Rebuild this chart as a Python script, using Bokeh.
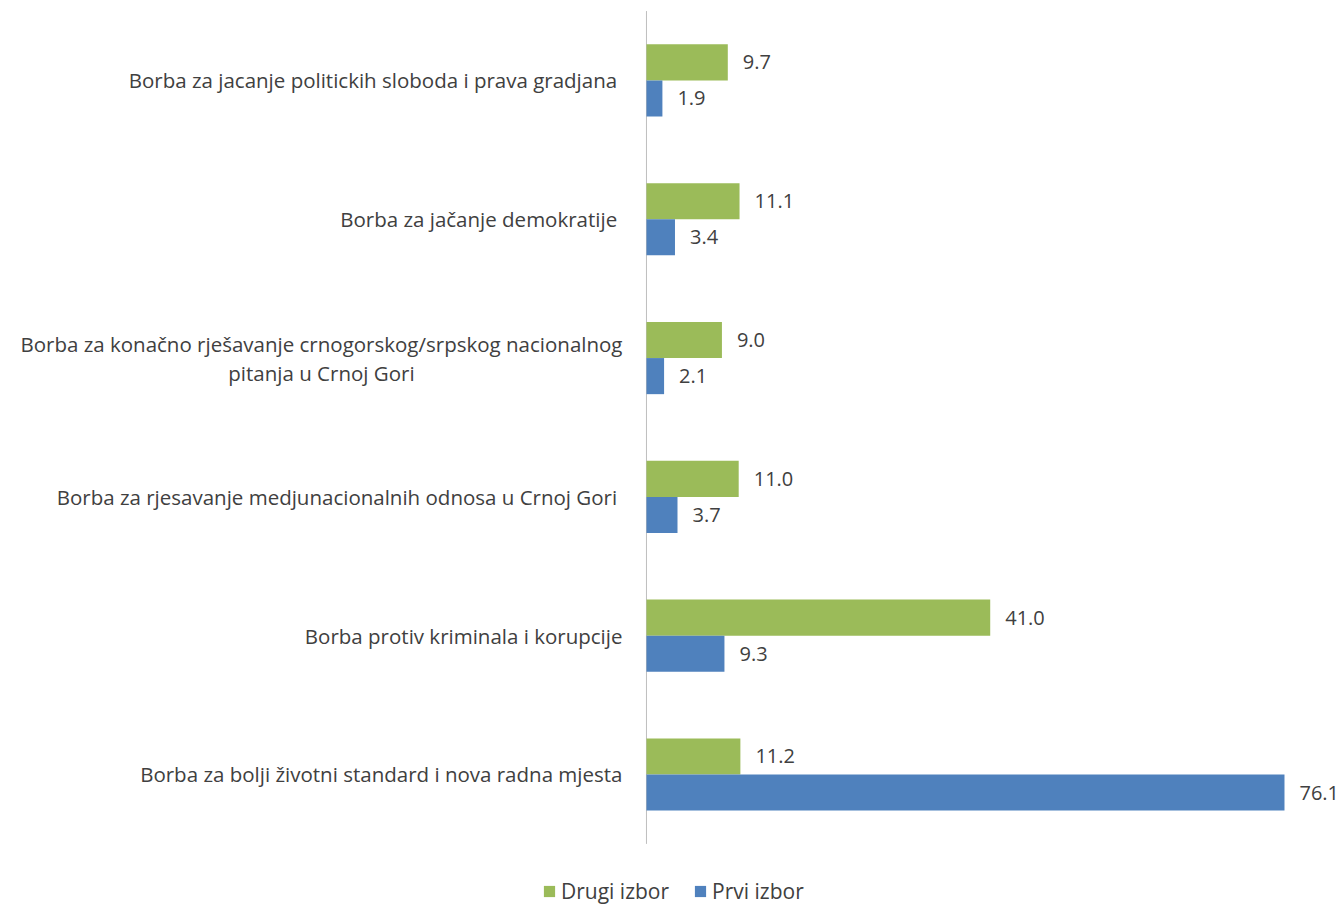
from bokeh.plotting import figure
from bokeh.models import ColumnDataSource, Range1d, Legend, LegendItem
from bokeh.transform import dodge
from bokeh.core.properties import value
from bokeh.embed import file_html
from bokeh.resources import INLINE

categories = [
    "Borba za jacanje politickih sloboda i prava  gradjana",
    "Borba za jačanje demokratije ",
    "Borba za konačno rješavanje crnogorskog/srpskog nacionalnog\npitanja u Crnoj Gori",
    "Borba za rjesavanje medjunacionalnih odnosa u  Crnoj Gori",
    "Borba protiv kriminala i korupcije",
    "Borba za bolji životni standard i nova radna mjesta",
]
drugi_izbor = [9.7, 11.1, 9.0, 11.0, 41.0, 11.2]
prvi_izbor = [1.9, 3.4, 2.1, 3.7, 9.3, 76.1]
series_names = ["Drugi izbor", "Prvi izbor"]

GREEN = "#9BBB59"
BLUE = "#4F81BD"
TXT = "#404040"
FONT = "Open Sans"

idx = list(range(len(categories)))
src = ColumnDataSource(dict(
    y=idx,
    cat=categories,
    drugi=drugi_izbor,
    prvi=prvi_izbor,
    drugi_lbl=[f"{v:.1f}" for v in drugi_izbor],
    prvi_lbl=[f"{v:.1f}" for v in prvi_izbor],
    zero=[0] * len(idx),
))

W, H = 1341, 906
p = figure(width=W, height=H, output_backend="svg", toolbar_location=None,
           x_range=Range1d(-77.05, 82.9), y_range=Range1d(5.951, -0.576),
           min_border=0, min_border_left=0, min_border_right=0,
           min_border_top=0, min_border_bottom=0)
p.axis.visible = False
p.grid.visible = False
p.outline_line_color = None
p.background_fill_color = "white"

# vertical category axis line at x = 0
p.segment(x0=0, x1=0, y0=-0.5, y1=len(categories) - 0.5, line_color="#BFBFBF", line_width=1)

g = p.hbar(y=dodge("y", -0.13, range=p.y_range), left=0, right="drugi", height=0.26,
           source=src, fill_color=GREEN, line_color=None)
b = p.hbar(y=dodge("y", 0.13, range=p.y_range), left=0, right="prvi", height=0.26,
           source=src, fill_color=BLUE, line_color=None)

p.text(x="drugi", y=dodge("y", -0.13, range=p.y_range), text="drugi_lbl", source=src,
       x_offset=15, text_align="left", text_baseline="middle",
       text_font=value(FONT), text_font_size="20px", text_color=TXT)
p.text(x="prvi", y=dodge("y", 0.13, range=p.y_range), text="prvi_lbl", source=src,
       x_offset=15, text_align="left", text_baseline="middle",
       text_font=value(FONT), text_font_size="20px", text_color=TXT)

p.text(x="zero", y="y", text="cat", source=src,
       x_offset=-24, text_align="center", anchor=value("center_right"), text_baseline="middle",
       text_font=value(FONT), text_font_size="20.5px", text_color=TXT, text_line_height=1.04)

legend = Legend(items=[LegendItem(label=series_names[0], renderers=[g]),
                       LegendItem(label=series_names[1], renderers=[b])],
                orientation="horizontal", location=(542, 1))
legend.margin = 0
legend.padding = 0
legend.spacing = 24
legend.glyph_width = 14
legend.glyph_height = 14
legend.label_standoff = 5
legend.label_text_font = FONT
legend.label_text_font_size = "21px"
legend.label_text_color = TXT
legend.border_line_color = None
legend.background_fill_alpha = 0
p.add_layout(legend)

open("out.html", "w").write(file_html(p, INLINE))
